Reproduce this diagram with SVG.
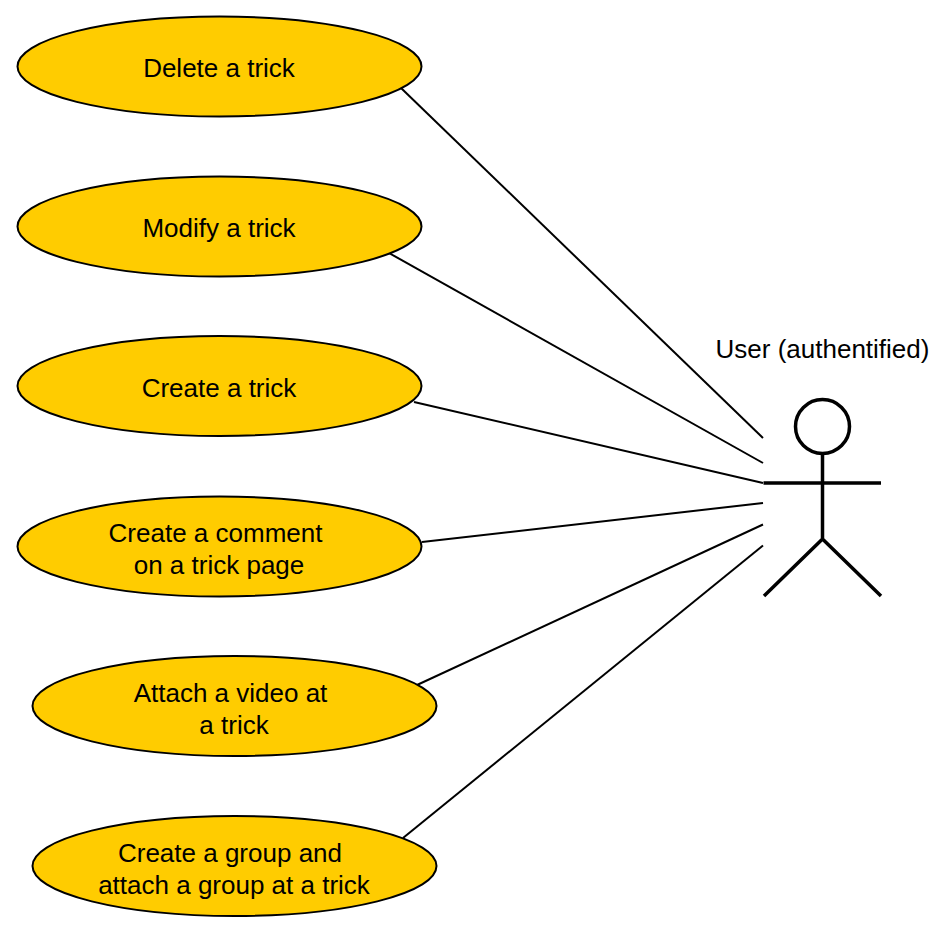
<svg xmlns="http://www.w3.org/2000/svg" width="950" height="934" viewBox="0 0 950 934">
<style>
.uc{fill:#ffcc00;stroke:#000;stroke-width:2}
text{font-family:"Liberation Sans",Arial,sans-serif;font-size:26px;fill:#000;text-anchor:middle}
.c{fill:none;stroke:#000;stroke-width:2}
.a{fill:none;stroke:#000;stroke-width:3.500}
</style>
<rect width="950" height="934" fill="#fff"/>
<g id="connectors">
<path class="c" d="M401 88L763 438"/>
<path class="c" d="M389 253L763 463"/>
<path class="c" d="M414 402L763 483"/>
<path class="c" d="M422 542L763 503"/>
<path class="c" d="M417 685L763 524.500"/>
<path class="c" d="M403 838L763 545.500"/>
</g>
<g id="n1"><ellipse class="uc" cx="219.500" cy="66.500" rx="202" ry="50"/><text x="219" y="77">Delete a trick</text></g>
<g id="n2"><ellipse class="uc" cx="219.500" cy="226.500" rx="202" ry="50"/><text x="219" y="237">Modify a trick</text></g>
<g id="n3"><ellipse class="uc" cx="219.500" cy="386" rx="202" ry="50"/><text x="219" y="397">Create a trick</text></g>
<g id="n4"><ellipse class="uc" cx="219.500" cy="546.500" rx="202" ry="50"/><text x="215.500" y="541.500">Create a comment</text><text x="219" y="573.500">on a trick page</text></g>
<g id="n5"><ellipse class="uc" cx="234.500" cy="706" rx="202" ry="50"/><text x="230.500" y="701.500">Attach a video at</text><text x="234" y="733.500">a trick</text></g>
<g id="n6"><ellipse class="uc" cx="234.500" cy="866" rx="202" ry="50"/><text x="230" y="861.500">Create a group and</text><text x="234" y="893.500">attach a group at a trick</text></g>
<g id="actor">
<circle class="a" cx="822.500" cy="426.500" r="27"/>
<path class="a" d="M822.500 453.500V539M763.500 483H881M822.500 539L764 596M822.500 539L881 596"/>
<text x="822.500" y="357.500">User (authentified)</text>
</g>
</svg>
